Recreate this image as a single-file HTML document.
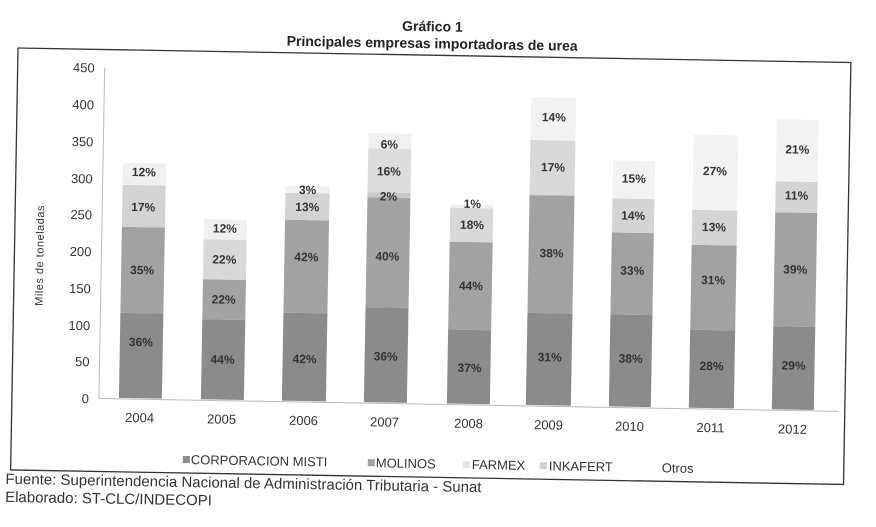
<!DOCTYPE html>
<html><head><meta charset="utf-8"><style>
html,body{margin:0;padding:0;background:#fff;}
svg{display:block;font-family:"Liberation Sans",sans-serif;}
</style></head><body>
<svg width="876" height="527" viewBox="0 0 876 527">
<g transform="rotate(1 18 48)">
<text x="432" y="24" text-anchor="middle" font-size="14" font-weight="bold" fill="#222">Gráfico 1</text>
<text x="432" y="41" text-anchor="middle" font-size="14" font-weight="bold" fill="#222">Principales empresas importadoras de urea</text>
<rect x="18" y="48" width="833" height="422" fill="none" stroke="#333" stroke-width="1.3"/>
<line x1="105" y1="66" x2="105" y2="397" stroke="#bbb"/>
<line x1="105" y1="397" x2="845" y2="397" stroke="#bbb"/>
<g font-size="13" fill="#333" text-anchor="end">
<text x="95" y="71">450</text><text x="95" y="108">400</text><text x="95" y="145">350</text>
<text x="95" y="182">300</text><text x="95" y="218">250</text><text x="95" y="255">200</text>
<text x="95" y="292">150</text><text x="95" y="329">100</text><text x="95" y="365">50</text>
<text x="95" y="402">0</text>
</g>
<text transform="translate(47 255) rotate(-90)" text-anchor="middle" font-size="11" fill="#333" letter-spacing="0.5">Miles de toneladas</text>
<g transform="translate(5 0)">
<g>
<rect x="120" y="311" width="43" height="85" fill="#8b8b8b"/><rect x="120" y="225" width="43" height="86" fill="#a2a2a2"/><rect x="120" y="183" width="43" height="42" fill="#d2d2d2"/><rect x="120" y="161" width="43" height="22" fill="#f0f0f0"/>
<rect x="202" y="316" width="43" height="80" fill="#8b8b8b"/><rect x="202" y="276" width="43" height="40" fill="#a2a2a2"/><rect x="202" y="236" width="43" height="40" fill="#d8d8d8"/><rect x="202" y="216" width="43" height="20" fill="#f0f0f0"/>
<rect x="283" y="308" width="44" height="88" fill="#8b8b8b"/><rect x="283" y="215" width="44" height="93" fill="#a2a2a2"/><rect x="283" y="188" width="44" height="27" fill="#d2d2d2"/><rect x="283" y="181" width="44" height="7" fill="#f0f0f0"/>
<rect x="365" y="301" width="43" height="95" fill="#8b8b8b"/><rect x="365" y="191" width="43" height="110" fill="#a2a2a2"/><rect x="365" y="186" width="43" height="5" fill="#c8c8c8"/><rect x="365" y="142" width="43" height="44" fill="#dcdcdc"/><rect x="365" y="127" width="43" height="15" fill="#f0f0f0"/>
<rect x="448" y="322" width="43" height="74" fill="#8b8b8b"/><rect x="448" y="234" width="43" height="88" fill="#a2a2a2"/><rect x="448" y="200" width="43" height="34" fill="#d8d8d8"/><rect x="448" y="197" width="43" height="3" fill="#f0f0f0"/>
<rect x="527" y="304" width="45" height="92" fill="#8b8b8b"/><rect x="527" y="186" width="45" height="118" fill="#a2a2a2"/><rect x="527" y="131" width="45" height="55" fill="#d8d8d8"/><rect x="527" y="88" width="45" height="43" fill="#f2f2f2"/>
<rect x="610" y="304" width="42" height="92" fill="#8b8b8b"/><rect x="610" y="222" width="42" height="82" fill="#a2a2a2"/><rect x="610" y="188" width="42" height="34" fill="#d4d4d4"/><rect x="610" y="150" width="42" height="38" fill="#f2f2f2"/>
<rect x="690" y="318" width="45" height="78" fill="#8b8b8b"/><rect x="690" y="233" width="45" height="85" fill="#a2a2a2"/><rect x="690" y="198" width="45" height="35" fill="#d4d4d4"/><rect x="690" y="123" width="45" height="75" fill="#f2f2f2"/>
<rect x="773" y="313" width="42" height="83" fill="#8b8b8b"/><rect x="773" y="199" width="42" height="114" fill="#a2a2a2"/><rect x="773" y="168" width="42" height="31" fill="#d4d4d4"/><rect x="773" y="106" width="42" height="62" fill="#f2f2f2"/>
</g>
<g font-size="12" font-weight="bold" fill="#333" text-anchor="middle">
<text x="141" y="344">36%</text><text x="141" y="272">35%</text><text x="141" y="209">17%</text><text x="141" y="174">12%</text>
<text x="223" y="360">44%</text><text x="223" y="300">22%</text><text x="223" y="260">22%</text><text x="223" y="229">12%</text>
<text x="305" y="358">42%</text><text x="305" y="256">42%</text><text x="305" y="206">13%</text><text x="305" y="189">3%</text>
<text x="386" y="354">36%</text><text x="386" y="254">40%</text><text x="386" y="194">2%</text><text x="386" y="169">16%</text><text x="386" y="142">6%</text>
<text x="470" y="364">37%</text><text x="470" y="282">44%</text><text x="470" y="221">18%</text><text x="470" y="200">1%</text>
<text x="550" y="352">31%</text><text x="550" y="248">38%</text><text x="550" y="162">17%</text><text x="550" y="112">14%</text>
<text x="631" y="352">38%</text><text x="631" y="264">33%</text><text x="631" y="209">14%</text><text x="631" y="172">15%</text>
<text x="712" y="358">28%</text><text x="712" y="272">31%</text><text x="712" y="219">13%</text><text x="712" y="163">27%</text>
<text x="794" y="356">29%</text><text x="794" y="260">39%</text><text x="794" y="186">11%</text><text x="794" y="140">21%</text>
</g>
<g font-size="13" fill="#333" text-anchor="middle">
<text x="141" y="420">2004</text><text x="223" y="420">2005</text><text x="305" y="420">2006</text>
<text x="386" y="420">2007</text><text x="470" y="420">2008</text><text x="550" y="420">2009</text>
<text x="631" y="420">2010</text><text x="712" y="420">2011</text><text x="794" y="420">2012</text>
</g>
</g>
<g font-size="13" fill="#333" transform="translate(7 0)">
<rect x="183" y="453" width="7" height="7" fill="#8b8b8b"/><text x="191" y="461">CORPORACION MISTI</text>
<rect x="368" y="453" width="7" height="7" fill="#a2a2a2"/><text x="376" y="461">MOLINOS</text>
<rect x="463" y="453" width="7" height="7" fill="#e4e4e4"/><text x="472" y="461">FARMEX</text>
<rect x="540" y="453" width="7" height="7" fill="#d0d0d0"/><text x="549" y="461">INKAFERT</text>
<text x="662" y="461">Otros</text>
</g>
<text x="13" y="484" font-size="15" fill="#333">Fuente: Superintendencia Nacional de Administración Tributaria - Sunat</text>
<text x="13" y="502" font-size="15" fill="#333">Elaborado: ST-CLC/INDECOPI</text>
</g>
</svg>
</body></html>
